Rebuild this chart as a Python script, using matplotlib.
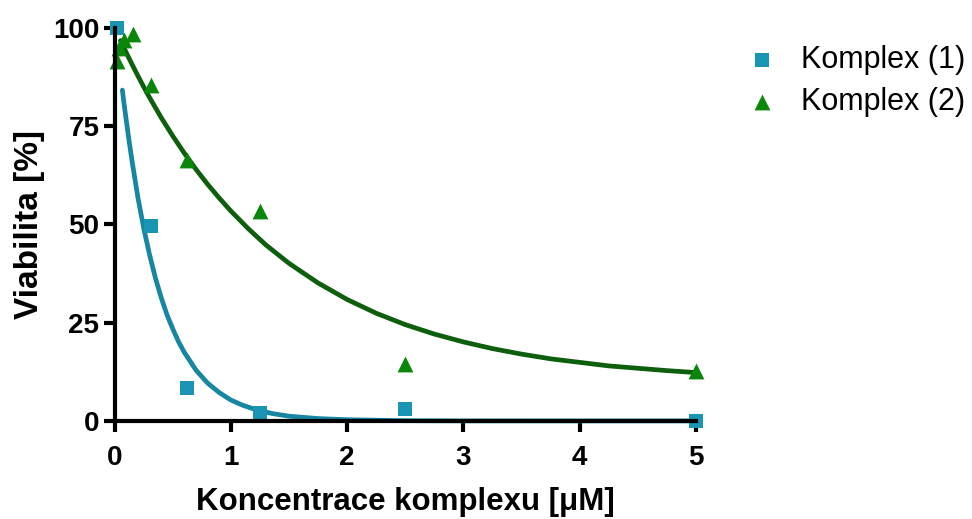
import matplotlib
matplotlib.use('Agg')
import matplotlib.pyplot as plt

# measured points
x1 = [0.0195, 0.3125, 0.625, 1.25, 2.5, 5.0]
y1 = [100.0, 49.5, 8.5, 2.0, 3.0, 0.0]
x2 = [0.0195, 0.039, 0.078, 0.156, 0.3125, 0.625, 1.25, 2.5, 5.0]
y2 = [91.5, 95.0, 97.0, 98.5, 85.5, 66.5, 53.5, 14.5, 12.8]

# fitted curves
fx1 = [0.066, 0.08, 0.1, 0.125, 0.15, 0.175, 0.2, 0.25, 0.3, 0.35, 0.4, 0.45, 0.5, 0.55,
       0.6, 0.7, 0.8, 0.9, 1.0, 1.1, 1.2, 1.35, 1.5, 1.75, 2.0, 2.5, 3.0, 4.0, 5.0]
fy1 = [84.2, 80.8, 76.4, 71.0, 66.0, 61.4, 56.8, 49.0, 42.3, 36.4, 31.4, 27.0, 23.4, 20.1,
       17.4, 12.9, 9.6, 7.2, 5.3, 4.0, 3.0, 1.9, 1.2, 0.6, 0.3, 0.06, 0.01, 0.0, 0.0]
fx2 = [0.05, 0.1, 0.15, 0.2, 0.25, 0.3, 0.4, 0.5, 0.6, 0.7, 0.8, 0.9, 1.0, 1.15, 1.3, 1.5,
       1.75, 2.0, 2.25, 2.5, 2.75, 3.0, 3.25, 3.5, 3.75, 4.0, 4.25, 4.5, 4.75, 5.0]
fy2 = [96.8, 93.7, 90.7, 87.8, 85.0, 82.3, 77.2, 72.5, 68.1, 64.0, 60.2, 56.7, 53.4, 48.9, 44.8, 40.1,
       35.1, 30.9, 27.4, 24.5, 22.1, 20.1, 18.4, 17.0, 15.8, 14.9, 14.0, 13.4, 12.8, 12.3]

labels = ['Komplex (1)', 'Komplex (2)']
xticks = [0, 1, 2, 3, 4, 5]
yticks = [0, 25, 50, 75, 100]

plt.rcParams['font.family'] = ['Liberation Sans', 'DejaVu Sans']

fig = plt.figure(figsize=(9.72, 5.19), dpi=100)
ax = fig.add_axes([0.118, 0.189, 0.598, 0.757])

teal = '#1995b3'
teal_line = '#1786a3'
green = '#0a870a'
green_line = '#0d5f0d'

ax.plot(fx1, fy1, color=teal_line, lw=3.4, zorder=2, solid_capstyle='round', clip_on=False)
ax.plot(fx2, fy2, color=green_line, lw=3.4, zorder=2, solid_capstyle='round', clip_on=False)
ax.scatter(x1, y1, marker='s', s=115, color=teal, zorder=3, label=labels[0],
           linewidths=0, clip_on=False)
ax.scatter(x2, y2, marker='^', s=130, color=green, zorder=3, label=labels[1],
           linewidths=0, clip_on=False)

ax.set_xlim(0, 5)
ax.set_ylim(0, 100)
ax.set_xticks(xticks)
ax.set_yticks(yticks)
for s in ['top', 'right']:
    ax.spines[s].set_visible(False)
for s in ['left', 'bottom']:
    ax.spines[s].set_linewidth(3)
    ax.spines[s].set_zorder(4)
    ax.spines[s].set_capstyle('projecting')
ax.tick_params(direction='out', length=8, width=3, labelsize=20)
ax.tick_params(axis='x', pad=9)
ax.tick_params(axis='y', pad=3)
for t in ax.get_xticklabels() + ax.get_yticklabels():
    t.set_fontweight('bold')
ax.set_xlabel('Koncentrace komplexu [\u03bcM]', fontsize=22.5, fontweight='bold', labelpad=12)
ax.set_ylabel('Viabilita [%]', fontsize=24, fontweight='bold', labelpad=6)

leg = fig.legend(loc='upper left', bbox_to_anchor=(0.731, 0.967), frameon=False,
                 fontsize=22, handletextpad=0.45, labelspacing=0.4, markerscale=1.0,
                 handlelength=1.6)

fig.savefig('out.png', dpi=100)
